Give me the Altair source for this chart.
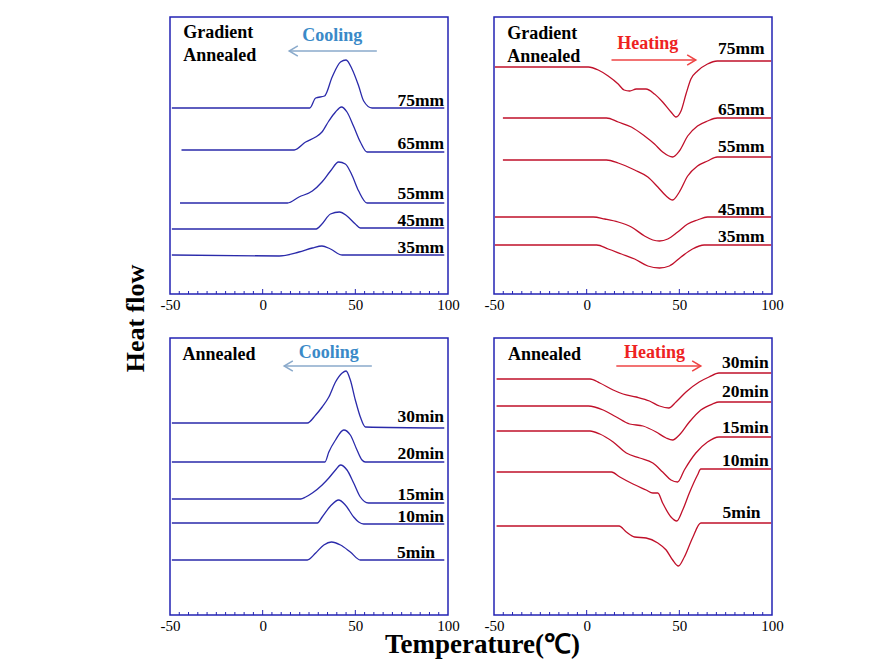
import altair as alt
import pandas as pd

FONT = "Liberation Serif"
W, H = 278, 277
BORDER = "#2323B4"
BLUE_LINE = "#2A2AAA"
RED_LINE = "#C0102A"

# ---------------- data (temperature, height above panel bottom) ----------------
TL_75_T = [-49, 25.4, 28.6, 33.4, 37.5, 42, 45, 48.2, 51.8, 54.5, 59, 98]
TL_75_H = [186, 186, 196, 198, 217, 232, 234, 225, 208, 193, 186, 186]
TL_65_T = [-43.8, 17, 23.2, 28.6, 32, 35.7, 39.3, 42.5, 45.5, 49, 52.7, 56.3, 98]
TL_65_H = [144, 144, 152, 157, 162, 173, 182, 187, 182, 168, 152, 142, 142]
TL_55_T = [-44.6, 13.4, 19.6, 26.8, 32, 36.6, 41, 44.6, 47.9, 51.8, 56.3, 98]
TL_55_H = [91, 91, 97, 103, 112, 123, 132, 130, 120, 103, 91, 91]
TL_45_T = [-49, 28.9, 32, 36.6, 41.4, 45.5, 50, 52.7, 98]
TL_45_H = [65, 65, 70, 80, 82, 78, 70, 66, 66]
TL_35_T = [-49, 8.9, 19.6, 26.8, 32, 36.6, 42.9, 98]
TL_35_H = [39, 38, 42, 46, 48, 45, 39, 39]

TR_75_T = [-49.5, 0.9, 6.25, 11.6, 17, 20.2, 23.2, 26.8, 32, 36.6, 41, 45.5, 48.2, 50.9, 53.6, 56.25, 59.8, 65.2, 70.5, 99.5]
TR_75_H = [227, 227, 224, 218, 210, 204, 203, 205, 205, 200, 192, 182, 177, 183, 200, 215, 223, 230, 233, 233]
TR_65_T = [-45.2, 10.7, 17, 24.1, 31.25, 36.6, 41, 46.4, 50, 54.5, 59.8, 65.2, 70.5, 99.5]
TR_65_H = [176, 176, 172, 167, 158, 150, 142, 137, 143, 158, 168, 173, 176, 176]
TR_55_T = [-45.2, 10.7, 17, 25.9, 33, 38.4, 42.9, 46.4, 50, 54.5, 59.8, 65.2, 70.5, 99.5]
TR_55_H = [134, 134, 131, 124, 117, 107, 98, 94, 102, 118, 128, 133, 137, 137]
TR_45_T = [-49.5, 3.6, 9.8, 17, 24.1, 31.25, 35.7, 39.3, 43.75, 49.1, 54.5, 59.8, 65.2, 99.5]
TR_45_H = [77, 77, 75, 72, 67, 58, 54, 53, 55, 62, 70, 74, 77, 77]
TR_35_T = [-49.5, 5.4, 11.6, 18.75, 25.9, 33, 39.3, 44.6, 50.9, 57.1, 63.4, 99.5]
TR_35_H = [49, 49, 45, 40, 35, 28, 26, 28, 37, 45, 49, 49]

BL_30_T = [-49, 24.1, 28.6, 32.1, 35.7, 39.3, 42.9, 45, 47.3, 50, 52.7, 55.4, 98]
BL_30_H = [192, 192, 200, 208, 218, 233, 242, 244, 235, 215, 198, 188, 187]
BL_20_T = [-49, 33.6, 35.7, 39.3, 43.75, 47.3, 50.9, 53.6, 55.4, 98]
BL_20_H = [153, 153, 163, 175, 185, 180, 165, 155, 153, 153]
BL_15_T = [-49, 20.5, 23.2, 26.8, 32.1, 35.7, 39.3, 42, 45.5, 49.1, 52.7, 57.1, 98]
BL_15_H = [116, 116, 118, 122, 130, 137, 145, 150, 145, 132, 118, 112, 112]
BL_10_T = [-49, 29.5, 32.1, 36.6, 41, 44.6, 49.1, 51.8, 54.5, 98]
BL_10_H = [92, 92, 98, 109, 115, 110, 98, 93, 91, 91]
BL_5_T = [-49, 24.1, 28.6, 33, 37.1, 42, 47.3, 52.7, 98]
BL_5_H = [55, 55, 62, 70, 73, 70, 63, 55, 55]

BR_30_T = [-48.6, 1.8, 7.1, 14.3, 19.6, 26.8, 33.9, 39.3, 44.3, 48.2, 53.6, 60.7, 66, 71.4, 99.5]
BR_30_H = [236, 236, 232, 225, 221, 218, 214, 209, 207, 213, 223, 233, 238, 242, 242]
BR_20_T = [-48.6, 0.9, 8.9, 16, 23.2, 30.4, 37.5, 42.9, 46.4, 50, 55.4, 61.6, 67.9, 71.4, 99.5]
BR_20_H = [209, 209, 205, 198, 191, 189, 183, 177, 175, 180, 193, 205, 211, 213, 213]
BR_15_T = [-48.6, 1.8, 7.1, 14.3, 21.4, 28.6, 35.7, 41, 45.5, 49.1, 52.7, 58.9, 65.2, 71.4, 99.5]
BR_15_H = [184, 184, 181, 173, 162, 157, 152, 143, 135, 133, 145, 162, 173, 178, 178]
BR_10_T = [-48.6, 13.4, 17.9, 25, 32.1, 35.7, 38.4, 41, 45.5, 48.6, 51.8, 55.4, 59.8, 61.6, 99.5]
BR_10_H = [143, 143, 138, 131, 125, 122, 122, 112, 98, 94, 105, 122, 140, 146, 146]
BR_5_T = [-48.6, 17.5, 21.4, 25.9, 32.1, 38.4, 42.9, 46.4, 49.5, 52.7, 57.1, 61.6, 99.5]
BR_5_H = [89, 89, 83, 78, 77, 72, 65, 55, 49, 58, 77, 92, 92]

# curve labels
TL_LABELS = ["75mm", "65mm", "55mm", "45mm", "35mm"]
TL_LAB_T = [97.9, 97.9, 97.9, 97.9, 97.9]
TL_LAB_H = [193, 150, 100, 73, 46]
TR_LABELS = ["75mm", "65mm", "55mm", "45mm", "35mm"]
TR_LAB_T = [96, 96, 96, 96, 96]
TR_LAB_H = [245, 184, 147, 84, 57]
BL_LABELS = ["30min", "20min", "15min", "10min", "5min"]
BL_LAB_T = [97.9, 97.9, 97.9, 97.9, 93]
BL_LAB_H = [198, 161, 120, 98, 62]
BR_LABELS = ["30min", "20min", "15min", "10min", "5min"]
BR_LAB_T = [98.2, 98.2, 98.2, 98.2, 93.8]
BR_LAB_H = [252, 223, 187, 154, 102]

# corner annotation
TL_NOTE = ["Gradient", "Annealed"]
TL_NOTE_T = [-42.9, -42.9]
TL_NOTE_H = [261, 238]
TR_NOTE = ["Gradient", "Annealed"]
TR_NOTE_T = [-42.9, -42.9]
TR_NOTE_H = [260, 237]
BL_NOTE = ["Annealed"]
BL_NOTE_T = [-43.2]
BL_NOTE_H = [260]
BR_NOTE = ["Annealed"]
BR_NOTE_T = [-42.5]
BR_NOTE_H = [260]

# direction text and arrow (text, text T, text H, arrow start T, arrow tip T, arrow H)
TL_DIR = ("Cooling", 37.5, 258, 61.6, 14.3, 243)
TR_DIR = ("Heating", 33.0, 250, 13.4, 58.9, 234)
BL_DIR = ("Cooling", 35.7, 262, 58.9, 11.6, 249)
BR_DIR = ("Heating", 36.6, 262, 16.0, 61.6, 249)

# inner ticks on the bottom frame
MINOR_TICKS = [-45, -40, -35, -30, -25, -20, -15, -10, -5, 5, 10, 15, 20, 25, 30, 35, 40, 45,
               55, 60, 65, 70, 75, 80, 85, 90, 95]
MAJOR_TICKS = [0, 50]
X_TICK_LABELS = [-50, 0, 50, 100]

xscale = alt.Scale(domain=[-50, 100], nice=False, zero=False)
yscale = alt.Scale(domain=[0, 277], nice=False, zero=False)


def curves_df(curves):
    rows = []
    for name, (ts, hs) in curves.items():
        for i, (t, h) in enumerate(zip(ts, hs)):
            rows.append({"curve": name, "T": t, "H": h, "i": i})
    return pd.DataFrame(rows)


def panel(curves, line_color, labels, lab_t, lab_h, notes, note_t, note_h,
          direction, dir_color, arrow_color, xaxis, yaxis):
    X = lambda f="T": alt.X(f"{f}:Q", scale=xscale, axis=xaxis)
    Y = lambda f="H": alt.Y(f"{f}:Q", scale=yscale, axis=yaxis)

    lines = alt.Chart(curves_df(curves)).mark_line(
        color=line_color, strokeWidth=1.3, interpolate="monotone"
    ).encode(x=X(), y=Y(), detail="curve:N", order="i:Q")

    ticks_df = pd.DataFrame(
        {"T": MINOR_TICKS + MAJOR_TICKS,
         "y0": [0] * (len(MINOR_TICKS) + len(MAJOR_TICKS)),
         "y1": [3] * len(MINOR_TICKS) + [5] * len(MAJOR_TICKS)}
    )
    ticks = alt.Chart(ticks_df).mark_rule(color=BORDER, strokeWidth=1).encode(
        x=X(), y=Y("y0"), y2="y1:Q")

    lab = alt.Chart(pd.DataFrame({"T": lab_t, "H": lab_h, "txt": labels})).mark_text(
        align="right", baseline="middle", font=FONT, fontSize=17.5, fontWeight="bold", color="black"
    ).encode(x=X(), y=Y(), text="txt:N")

    note = alt.Chart(pd.DataFrame({"T": note_t, "H": note_h, "txt": notes})).mark_text(
        align="left", baseline="middle", font=FONT, fontSize=18, fontWeight="bold", color="black"
    ).encode(x=X(), y=Y(), text="txt:N")

    txt, tt, th, a0, a1, ah = direction
    dtext = alt.Chart(pd.DataFrame({"T": [tt], "H": [th], "txt": [txt]})).mark_text(
        align="center", baseline="middle", font=FONT, fontSize=18, fontWeight="bold", color=dir_color
    ).encode(x=X(), y=Y(), text="txt:N")

    shaft = alt.Chart(pd.DataFrame({"T": [a0], "T2": [a1], "H": [ah]})).mark_rule(
        color=arrow_color, strokeWidth=1.5
    ).encode(x=X(), x2="T2:Q", y=Y())

    shape = "M 1 -0.6 L 0 0 L 1 0.6" if a1 < a0 else "M -1 -0.6 L 0 0 L -1 0.6"
    head = alt.Chart(pd.DataFrame({"T": [a1], "H": [ah]})).mark_point(
        shape=shape, size=300, filled=False, color=arrow_color, strokeWidth=1.5, opacity=1
    ).encode(x=X(), y=Y())

    return alt.layer(ticks, lines, lab, note, shaft, head, dtext).properties(width=W, height=H)


def xaxis(title=None, **kw):
    args = dict(values=X_TICK_LABELS, ticks=False, domain=False, grid=False,
                labelFont=FONT, labelFontSize=15, labelColor="black", labelPadding=3,
                labelFlush=False, labelExpr="'' + datum.value")
    if title:
        args.update(title=title, titleFont=FONT, titleFontSize=27, titleFontWeight="bold",
                    titleColor="black", **kw)
    else:
        args.update(title=None)
    return alt.Axis(**args)


y_title_axis = alt.Axis(title="Heat flow", labels=False, ticks=False, domain=False, grid=False,
                        titleFont=FONT, titleFontSize=26, titleFontWeight="bold",
                        titleColor="black", titleX=-22, titleY=301)

tl = panel({"75mm": (TL_75_T, TL_75_H), "65mm": (TL_65_T, TL_65_H), "55mm": (TL_55_T, TL_55_H),
            "45mm": (TL_45_T, TL_45_H), "35mm": (TL_35_T, TL_35_H)},
           BLUE_LINE, TL_LABELS, TL_LAB_T, TL_LAB_H, TL_NOTE, TL_NOTE_T, TL_NOTE_H,
           TL_DIR, "#3A8AC8", "#8AAACB", xaxis(), y_title_axis)
tr = panel({"75mm": (TR_75_T, TR_75_H), "65mm": (TR_65_T, TR_65_H), "55mm": (TR_55_T, TR_55_H),
            "45mm": (TR_45_T, TR_45_H), "35mm": (TR_35_T, TR_35_H)},
           RED_LINE, TR_LABELS, TR_LAB_T, TR_LAB_H, TR_NOTE, TR_NOTE_T, TR_NOTE_H,
           TR_DIR, "#EE2222", "#EE4444", xaxis(), None)
bl = panel({"30min": (BL_30_T, BL_30_H), "20min": (BL_20_T, BL_20_H), "15min": (BL_15_T, BL_15_H),
            "10min": (BL_10_T, BL_10_H), "5min": (BL_5_T, BL_5_H)},
           BLUE_LINE, BL_LABELS, BL_LAB_T, BL_LAB_H, BL_NOTE, BL_NOTE_T, BL_NOTE_H,
           BL_DIR, "#3A8AC8", "#8AAACB",
           xaxis("Temperature(℃)", titleX=312, titleY=37, titleBaseline="alphabetic", titleAlign="center"),
           None)
br = panel({"30min": (BR_30_T, BR_30_H), "20min": (BR_20_T, BR_20_H), "15min": (BR_15_T, BR_15_H),
            "10min": (BR_10_T, BR_10_H), "5min": (BR_5_T, BR_5_H)},
           RED_LINE, BR_LABELS, BR_LAB_T, BR_LAB_H, BR_NOTE, BR_NOTE_T, BR_NOTE_H,
           BR_DIR, "#EE2222", "#EE4444", xaxis(), None)

chart = alt.concat(tl, tr, bl, br, columns=2, spacing={"row": 44, "column": 46},
                   bounds="flush").properties(
    padding={"left": 113, "top": 8, "right": 5, "bottom": 5},
    background="white",
).configure_view(stroke=BORDER, strokeWidth=1.5)

chart.save("out.html", embed_options={"renderer": "svg", "actions": False})
